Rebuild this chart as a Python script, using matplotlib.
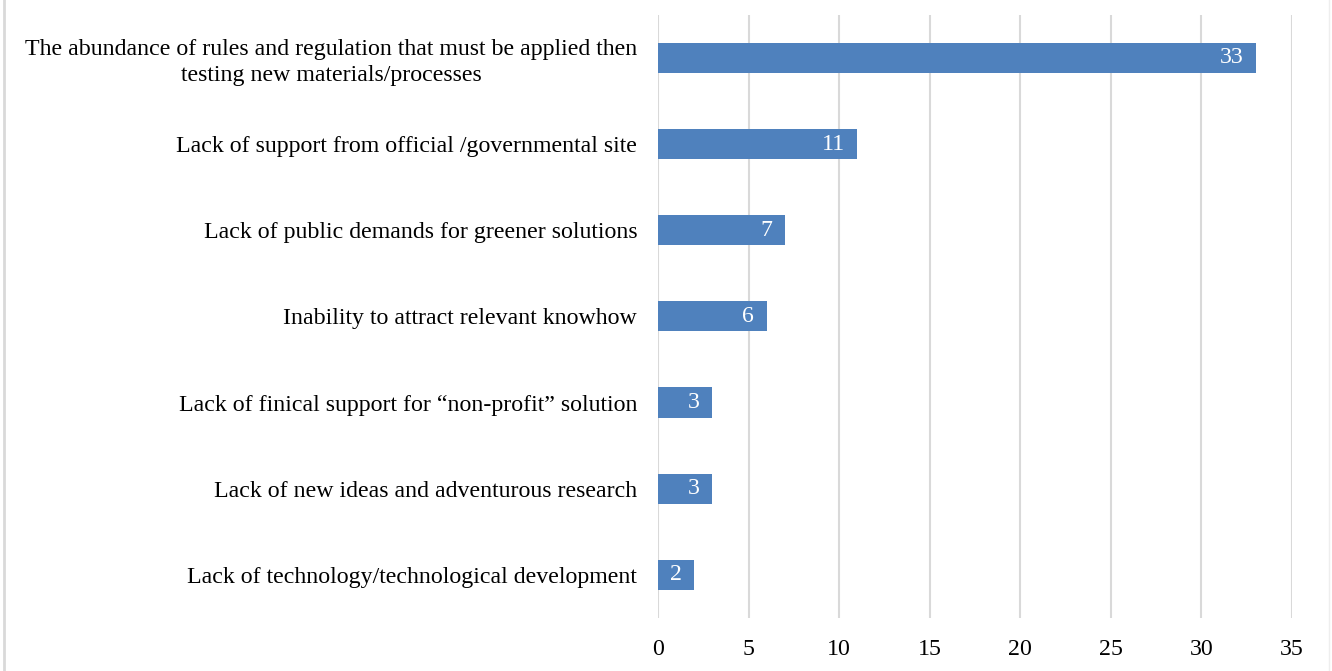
import matplotlib.pyplot as plt
from matplotlib.lines import Line2D

plt.rcParams['font.family'] = ['Liberation Serif', 'DejaVu Serif']

# barriers, listed from top to bottom
barriers = [
    "The abundance of rules and regulation that must be applied then\ntesting new materials/processes",
    "Lack of support from official /governmental site",
    "Lack of public demands for greener solutions",
    "Inability to attract relevant knowhow",
    "Lack of finical support for \u201cnon-profit\u201d solution",
    "Lack of new ideas and adventurous research",
    "Lack of technology/technological development",
]
counts = [33, 11, 7, 6, 3, 3, 2]
xticks = [0, 5, 10, 15, 20, 25, 30, 35]

bar_color = '#4F81BD'
grid_color = '#d9d9d9'
fs = 17.2

fig = plt.figure(figsize=(13.32, 6.71), dpi=100)
ax = fig.add_axes([0.494, 0.079, 0.476, 0.899])

ypos = list(range(len(barriers)))[::-1]
bars = ax.barh(ypos, counts, height=0.35, color=bar_color, zorder=2)

for y, v in zip(ypos, counts):
    ax.annotate(str(v), xy=(v, y), xytext=(-9, 0), textcoords='offset points',
                ha='right', va='center', color='white', fontsize=fs)

ax.set_xlim(0, 35)
ax.set_ylim(-0.5, len(barriers) - 0.5)
ax.set_xticks(xticks)
ax.set_yticks(ypos)
ax.set_yticklabels(barriers, fontsize=fs, multialignment='center', linespacing=1.3)
ax.tick_params(axis='x', length=0, pad=15, labelsize=fs)
ax.tick_params(axis='y', length=0, pad=15)
ax.grid(axis='x', color=grid_color, linewidth=1.5, zorder=0)
for s in ax.spines.values():
    s.set_visible(False)

# thin frame lines at the figure sides
fig.add_artist(Line2D([0.003, 0.003], [0, 1], color=grid_color, linewidth=2,
                      transform=fig.transFigure))
fig.add_artist(Line2D([0.998, 0.998], [0, 1], color='#eeeeee', linewidth=1,
                      transform=fig.transFigure))

fig.savefig('out.png', dpi=100)
